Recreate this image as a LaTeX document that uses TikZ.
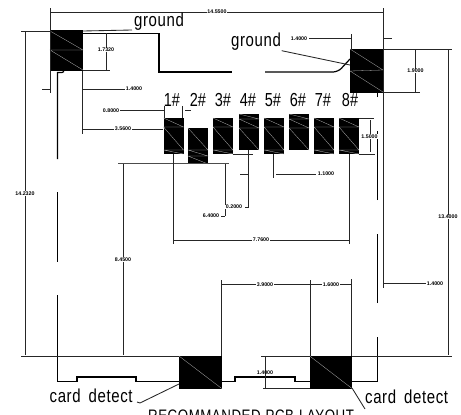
\documentclass[tikz,border=0pt]{standalone}
\usepackage{fontspec}
\setmainfont{Liberation Sans}
\newcommand{\tallT}[1]{\scalebox{1}[1.25]{\addfontfeature{LetterSpace=4}#1}}
\newcommand{\pinT}[1]{\scalebox{1}[1.3]{#1}}
\tikzset{
 dimline/.style={line width=0.85pt,black!85},
 outline/.style={line width=1.2pt,black},
 hatch/.style={draw=white!70!black,line width=0.3pt},
 dimtext/.style={font=\fontsize{5.3}{6}\selectfont\bfseries,inner sep=0.6pt,fill=white},
 bigtext/.style={font=\fontsize{15}{16}\selectfont,inner sep=0pt},
 pintext/.style={font=\fontsize{14.5}{15}\selectfont,inner sep=0pt}
}
\newcommand{\pinA}[2]{% x, top: tall pad, hatch towards the top
 \fill[black] (#1,#2) rectangle ++(20,36);
 \draw[hatch] (#1,#2) -- ++(20,9) -- ++(-20,0) -- ++(20,23) -- ++(-20,0) -- ++(20,4);}
\newcommand{\pinB}[2]{% zigzag at the bottom
 \fill[black] (#1,#2) rectangle ++(20,36);
 \draw[hatch] (#1,#2) -- ++(20,22) -- ++(-20,0) -- ++(20,6) -- ++(-20,0) -- ++(20,8);}
\newcommand{\pinC}[2]{% zigzag at the top
 \fill[black] (#1,#2) rectangle ++(20,36);
 \draw[hatch] (#1,#2) -- ++(20,5) -- ++(-20,0) -- ++(20,9) -- ++(-20,0) -- ++(20,22);}
\begin{document}
\begin{tikzpicture}[x=1pt,y=-1pt]
\clip (0,0) rectangle (461,415);
\fill[white] (0,0) rectangle (461,415);

% large pads
\fill[black] (50,30) rectangle (83,71);
\draw[hatch] (50,31) -- (83,50) -- (50,50) -- (83,70);
\fill[black] (350,49) rectangle (383.5,93);
\draw[hatch] (350,49) -- (383,70) -- (350,71) -- (383,92);
\fill[black] (179,356) rectangle (221.7,388.5);
\draw[hatch] (179,356) -- (221.7,388.5);
\fill[black] (309.7,356) rectangle (352,388.5);
\draw[hatch] (309.7,356) -- (352,388.5);

% pin pads
\pinA{163.5}{118}
\pinB{188}{128}
\pinA{213}{118}
\pinC{239}{114}
\pinA{264}{118}
\pinC{289}{114}
\pinA{314}{118}
\pinA{339}{118}

% slot outline
\draw[outline] (83,33.5) -- (159,33.5) -- (159,72) -- (232,72);
\draw[outline,rounded corners=5pt] (265,72) -- (338,72) -- (350,59);
\draw[outline] (64,71.5) -- (62,72.5) -- (57.5,72.5) -- (57.5,159);
\draw[outline] (57.5,192) -- (57.5,262);
\draw[outline] (57.5,295) -- (57.5,381.5) -- (77,381.5) -- (77,377) -- (136,377) -- (136,381.5) -- (179,381.5);
\draw[outline] (222,381.5) -- (235,381.5) -- (235,377) -- (295,377) -- (295,381.5) -- (310,381.5);
\draw[outline] (352,381.5) -- (377.7,381.5) -- (377.7,337);
\draw[outline] (377.7,303) -- (377.7,234);
\draw[outline] (377.7,200) -- (377.7,131);
\draw[outline] (377.7,97) -- (377.7,93);

% overall dimensions
\draw[dimline] (50.5,8) -- (50.5,93);
\draw[dimline] (50.5,12) -- (383.5,12);
\draw[dimline] (383.5,8) -- (383.5,288);
\draw[dimline] (21,31) -- (50,31);
\draw[dimline] (25,31) -- (25,355);
\draw[dimline] (21,356) -- (179,356);
\draw[dimline] (261,356) -- (310,356);
\draw[dimline] (352,356) -- (452,356);
\draw[dimline] (384,49.5) -- (452,49.5);
\draw[dimline] (448,49.5) -- (448,355);

% ground leaders
\draw[dimline] (83,31) -- (132,30);
\draw[dimline] (281.7,50.7) -- (350,65);

% 1.7320
\draw[dimline] (106,33) -- (106,70);
\draw[dimline] (83,70) -- (110,70);
% 1.9000
\draw[dimline] (384,92.5) -- (420,92.5);
\draw[dimline] (415.5,50) -- (415.5,92);
% 1.4000 top right
\draw[dimline] (309,38.5) -- (351,38.5);
\draw[dimline] (351.5,34) -- (351.5,49);
\draw[dimline] (383.5,38.5) -- (392,38.5);
% 1.4000 left
\draw[dimline] (42,89) -- (50,89);
\draw[dimline] (82.5,71) -- (82.5,134);
\draw[dimline] (83,89) -- (125,89);
% 3.5600
\draw[dimline] (83,129) -- (163,129);
% 0.8000
\draw[dimline] (120,110.5) -- (164,110.5);
\draw[dimline] (164,106) -- (164,118);
\draw[dimline] (182,106) -- (182,118);
\draw[dimline] (185,110.5) -- (191,110.5);
% 8.4500 / 6.4000 baseline
\draw[line width=1.1pt,black!70] (118,163.7) -- (229,163.7);
\draw[dimline] (123,164) -- (123,355);
\draw[dimline] (225,164) -- (225,216);
\draw[dimline] (221,216) -- (225,216);
% 0.2000
\draw[dimline] (233,154) -- (253,154);
\draw[dimline] (248.7,150) -- (248.7,207);
\draw[dimline] (245,207) -- (248.7,207);
\draw[dimline] (240,174) -- (248.7,174);
% 1.1000
\draw[dimline] (273.7,154) -- (273.7,178);
\draw[dimline] (276,174) -- (316,174);
% 7.7600
\draw[dimline] (173,154) -- (173,244);
\draw[dimline] (349,154) -- (349,244);
\draw[dimline] (173,240) -- (349,240);
% 1.5000
\draw[dimline] (359,118) -- (374,118);
\draw[dimline] (359,154) -- (375,154);
\draw[dimline] (370,120) -- (370,152);
% 1.4000 right
\draw[dimline] (384,283.5) -- (426,283.5);
% 3.9000 / 1.6000
\draw[dimline] (221,280) -- (221,356);
\draw[dimline] (310,280) -- (310,356);
\draw[dimline] (351,279) -- (351,356);
\draw[dimline] (221,284.5) -- (351,284.5);
% 1.4000 bottom
\draw[dimline] (265,356) -- (265,388);
\draw[dimline] (263,388) -- (310,388);
% card detect leaders
\draw[dimline] (137,402) -- (140,403) -- (179,384);
\draw[dimline] (352,388) -- (365,409);

% dimension labels
\node[dimtext] (d1) at (217,12) {14.5500};
\node[dimtext] (d2) at (106,50) {1.7320};
\node[dimtext] (d3) at (134,88.5) {1.4000};
\node[dimtext] (d4) at (111,111) {0.8000};
\node[dimtext] (d5) at (123,129) {3.5600};
\node[dimtext] (d6) at (299,39) {1.4000};
\node[dimtext] (d7) at (415.5,71) {1.9000};
\node[dimtext] (d8) at (448,217) {13.4000};
\node[dimtext] (d9) at (369.5,136.5) {1.5000};
\node[dimtext] (d10) at (25,193.5) {14.2320};
\node[dimtext] (d11) at (123,259.5) {8.4500};
\node[dimtext] (d12) at (211,216) {6.4000};
\node[dimtext] (d13) at (234,207) {0.2000};
\node[dimtext] (d14) at (326,174) {1.1000};
\node[dimtext] (d15) at (261,240) {7.7600};
\node[dimtext] (d16) at (265,284.5) {3.9000};
\node[dimtext] (d17) at (331,284.5) {1.6000};
\node[dimtext] (d18) at (435,284) {1.4000};
\node[dimtext,fill=none] (d19) at (265,372.5) {1.4000};

% texts
\node[bigtext,anchor=base west] (g1) at (134,26) {\tallT{ground}};
\node[bigtext,anchor=base west] (g2) at (231,46) {\tallT{ground}};
\node[bigtext,anchor=base west] (c1) at (49.5,402) {\tallT{card\hspace{8pt}detect}};
\node[bigtext,anchor=base west] (c2) at (365,403) {\tallT{card\hspace{8pt}detect}};
\node[bigtext,font=\fontsize{13.3}{14}\selectfont,anchor=base west] (r1) at (148,421.5) {\tallT{RECOMMANDED\hspace{5pt}PCB\hspace{5pt}LAYOUT}};

\node[pintext] (p1) at (172,100) {\pinT{1\#}};
\node[pintext] (p2) at (198,100) {\pinT{2\#}};
\node[pintext] (p3) at (223,100) {\pinT{3\#}};
\node[pintext] (p4) at (248,100) {\pinT{4\#}};
\node[pintext] (p5) at (273,100) {\pinT{5\#}};
\node[pintext] (p6) at (298,100) {\pinT{6\#}};
\node[pintext] (p7) at (323,100) {\pinT{7\#}};
\node[pintext] (p8) at (350,100) {\pinT{8\#}};
\end{tikzpicture}
\end{document}
